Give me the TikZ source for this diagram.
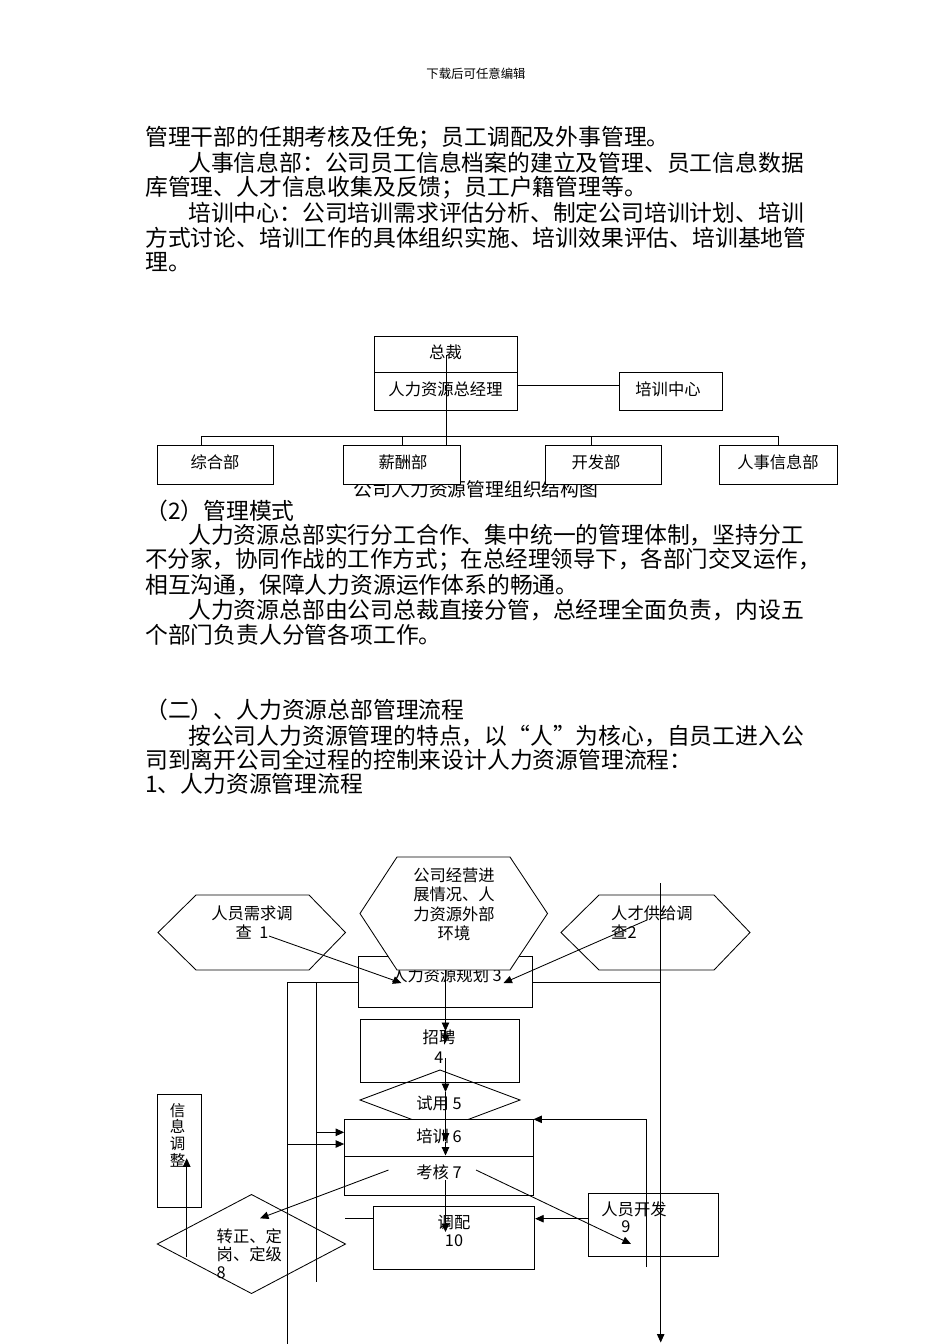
\documentclass[tikz,border=0pt]{standalone}
\usepackage{fontspec}
\setmainfont{Noto Sans CJK SC}
\usetikzlibrary{arrows.meta}
\newcommand\bodyf{\fontsize{22.8pt}{25pt}\selectfont}
\newcommand\dgf{\fontsize{16.3pt}{19.5pt}\selectfont}
\newcommand\hdrf{\fontsize{12.4pt}{14pt}\selectfont}
\newcommand\capf{\fontsize{18.8pt}{20pt}\selectfont}
\begin{document}
\begin{tikzpicture}[x=1pt,y=-1pt,
  box/.style={draw,line width=0.85pt,fill=white,inner sep=0pt,font=\dgf,align=center},
  lbl/.style={inner sep=0pt,font=\dgf,align=center},
  para/.style={anchor=west,inner sep=0pt,font=\bodyf},
  ln/.style={line width=0.85pt},
  arr/.style={line width=0.85pt,-{Triangle[length=8.5pt,width=7.5pt]}}]
\fill[white] (0,0) rectangle (950,1344);
\useasboundingbox (0,0) rectangle (950,1344);

% header
\node[inner sep=0pt,font=\hdrf] (hdr) at (476,74) {下载后可任意编辑};

% paragraphs
\node[para] (p1) at (145,137.5) {管理干部的任期考核及任免；员工调配及外事管理。};
\node[para] (p2) at (188,162.5) {人事信息部：公司员工信息档案的建立及管理、员工信息数据};
\node[para] (p3) at (145,187.5) {库管理、人才信息收集及反馈；员工户籍管理等。};
\node[para] (p4) at (188,212.5) {培训中心：公司培训需求评估分析、制定公司培训计划、培训};
\node[para] (p5) at (145,237.5) {方式讨论、培训工作的具体组织实施、培训效果评估、培训基地管};
\node[para] (p6) at (145,262.5) {理。};

\node[para] (q1) at (145,511) {（2）管理模式};
\node[para] (q2) at (188,535.5) {人力资源总部实行分工合作、集中统一的管理体制，坚持分工};
\node[para] (q3) at (145,560) {\scalebox{0.988}[1]{不分家，协同作战的工作方式；在总经理领导下，各部门交叉运作，}};
\node[para] (q4) at (145,585) {相互沟通，保障人力资源运作体系的畅通。};
\node[para] (q5) at (188,610) {人力资源总部由公司总裁直接分管，总经理全面负责，内设五};
\node[para] (q6) at (145,635) {个部门负责人分管各项工作。};
\node[para] (q7) at (145,710) {（二）、人力资源总部管理流程};
\node[para] (q8) at (188,736) {按公司人力资源管理的特点，以“人”为核心，自员工进入公};
\node[para] (q9) at (145,760) {司到离开公司全过程的控制来设计人力资源管理流程：};
\node[para] (q10) at (145,783.5) {1、人力资源管理流程};

% ---------------- org chart ----------------
\node[inner sep=0pt,font=\capf] (cap) at (476,489) {公司人力资源管理组织结构图};
\node[box,minimum width=143pt,minimum height=36pt] (zc) at (445.5,354) {};
\node[lbl] (zct) at (445.5,352) {总裁};
\node[box,minimum width=143pt,minimum height=38.4pt] (hr) at (445.5,391.5) {};
\node[lbl] (hrt) at (445.5,389) {人力资源总经理};
\node[box,minimum width=103pt,minimum height=38.4pt] (px) at (670.5,391.5) {};
\node[lbl] (pxt) at (668,389) {培训中心};
\node[box,minimum width=116.7pt,minimum height=39pt] (zh) at (215.3,464.5) {};
\node[lbl] (zht) at (215,462.5) {综合部};
\node[box,minimum width=116.7pt,minimum height=39pt] (xc) at (401.6,464.5) {};
\node[lbl] (xct) at (403,462.5) {薪酬部};
\node[box,minimum width=116pt,minimum height=39pt] (kf) at (603,464.5) {};
\node[lbl] (kft) at (596,462.5) {开发部};
\node[box,minimum width=117.4pt,minimum height=39pt] (rs) at (778.3,464.5) {};
\node[lbl] (rst) at (778,462.5) {人事信息部};

\draw[ln] ([yshift=6.5pt]hr.east) -- ([yshift=6.5pt]px.west);
\coordinate (zcC) at (446,355);
\coordinate (d1) at (201.5,436);
\coordinate (d2) at (402.7,436);
\coordinate (d3) at (591,436);
\coordinate (d4) at (778,436);
\draw[ln] (d1) -- (d4);
\draw[ln] (d1) -- (d1 |- zh.north);
\draw[ln] (d2) -- (d2 |- xc.north);
\draw[ln] (d3) -- (d3 |- kf.north);
\draw[ln] (d4) -- (d4 |- rs.north);
\draw[ln] (zcC) -- (zcC |- xc.north);

% ---------------- flow chart ----------------
% box 3
\node[box,minimum width=174.4pt,minimum height=50.3pt] (b3) at (445.5,981.9) {};
\node[lbl] (b3t) at (446.5,975) {人力资源规划 3};

% hexagons
\draw[ln,fill=white] (158,932.5) -- (196,895) -- (309,895) -- (345.5,932.5) -- (309,970) -- (196,970) -- cycle;
\node[lbl] (hL) at (252,922.5) {人员需求调\\查\ \ 1};
\draw[ln,fill=white] (561,932.5) -- (599,895) -- (714,895) -- (750,932.5) -- (714,970) -- (599,970) -- cycle;
\node[lbl,anchor=west,align=left] (hR) at (611,922.5) {人才供给调\\查2};
\draw[ln,fill=white] (360,913.5) -- (397,857) -- (510,857) -- (547.5,913.5) -- (510,970) -- (397,970) -- cycle;
\node[lbl] (hC) at (454,904.5) {公司经营进\\展情况、人\\力资源外部\\环境};

% recruit box, trial diamond, training/assessment box
\node[box,minimum width=159.6pt,minimum height=62.5pt] (b4) at (439.8,1050.8) {};
\node[lbl,font=\fontsize{16.3pt}{20pt}\selectfont] (b4t) at (439,1047) {招聘\\4};
\draw[ln] (360,1100) -- (440,1070) -- (520,1100) -- (440,1130) -- cycle;
\node[lbl] (d5t) at (439,1103) {试用 5};
\node[box,minimum width=188.5pt,minimum height=36.7pt] (b6) at (438.8,1137.7) {};
\node[lbl] (b6t) at (439,1136) {培训 6};
\node[box,minimum width=188.5pt,minimum height=39pt] (b7) at (438.8,1175.5) {};
\node[lbl] (b7t) at (439,1172) {考核 7};

% deploy, development, info adjust
\node[box,minimum width=160.9pt,minimum height=63pt] (b10) at (454.3,1237.5) {};
\node[lbl,font=\fontsize{16.3pt}{18pt}\selectfont] (b10t) at (454,1231) {调配\\10};
\node[box,minimum width=130pt,minimum height=63.4pt] (b9) at (653.3,1225) {};
\node[lbl] (b9a) at (634,1209) {人员开发};
\node[lbl] (b9b) at (626,1227) {9};
\node[box,minimum width=44.4pt,minimum height=113.3pt] (b11) at (179.5,1150.7) {};
\node[lbl,font=\fontsize{15.5pt}{16.7pt}\selectfont] (b11t) at (177.5,1135) {信\\息\\调\\整};

% diamond 8
\draw[ln] (157.3,1244) -- (251.5,1194.5) -- (345.5,1244) -- (251.5,1293.5) -- cycle;
\node[lbl,anchor=north west,align=left,font=\fontsize{16.3pt}{18pt}\selectfont] (d8t) at (216.5,1228) {转正、定\\岗、定级\\8};

% connectors
\coordinate (lA) at (287,982.5);
\coordinate (lB) at (316,982.5);
\coordinate (lAend) at (287,1344);
\coordinate (lBend) at (316,1281.7);
\draw[ln] (b3.west |- lA) -- (lA) -- (lAend);
\draw[ln] (lB) -- (lBend);
\coordinate (aB) at (316,1132.3);
\coordinate (aA) at (287,1144);
\draw[arr] (aB) -- (aB -| b6.west);
\draw[arr] (aA) -- (aA -| b6.west);

\coordinate (rA) at (660.7,982.5);
\coordinate (rTop) at (660.7,883);
\coordinate (rBot) at (660.7,1342.5);
\draw[ln] (b3.east |- rA) -- (rA);
\draw[arr] (rTop) -- (rBot);

\coordinate (fbB) at (646,1267);
\coordinate (fbT) at (646,1119.3);
\draw[arr] (fbB) -- (fbT) -- (fbT -| b6.east);

\coordinate (devY) at (600,1218.7);
\draw[arr] (devY -| b9.west) -- (devY -| b10.east);
\coordinate (shortL) at (345,1218.5);
\draw[ln] (shortL) -- (shortL -| b10.west);

% hexagon arrows to planning
\coordinate (hLs) at (269,936);
\coordinate (hLe) at (401.5,983);
\coordinate (hRs) at (647,920);
\coordinate (hRe) at (503.5,983);
\draw[arr] (hLs) -- (hLe);
\draw[arr] (hRs) -- (hRe);

% central spine
\coordinate (s0) at (445.5,970);
\coordinate (s1) at (445.5,1031);
\coordinate (s2) at (445.5,1043);
\coordinate (s3) at (445.5,1058);
\coordinate (s4) at (445.5,1092);
\coordinate (s5) at (445.5,1141.7);
\coordinate (s6) at (445.5,1155.5);
\coordinate (s7) at (445.5,1180);
\coordinate (s8) at (445.5,1232);
\draw[arr] (s0) -- (s1);
\draw[arr] (s1) -- (s2);
\draw[arr] (s3) -- (s4);
\draw[arr] (s4) -- (s5);
\draw[arr] (s5) -- (s6);
\draw[arr] (s7) -- (s8);

% assessment diagonals
\coordinate (k7L) at (388.5,1170);
\coordinate (k7R) at (476,1170);
\coordinate (to8) at (260,1218.3);
\coordinate (to9) at (631,1244);
\draw[arr] (k7L) -- (to8);
\draw[arr] (k7R) -- (to9);

% info adjust arrow
\coordinate (iB) at (186.7,1256.7);
\coordinate (iT) at (186.7,1158.3);
\draw[arr] (iB) -- (iT);
\end{tikzpicture}
\end{document}
